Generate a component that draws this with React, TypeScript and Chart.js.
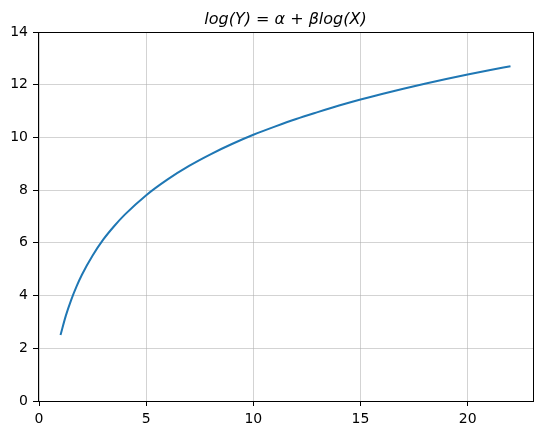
import React, { useEffect, useRef } from "react";
import { Chart, registerables } from "chart.js";

Chart.register(...registerables);

const xValues = [1, 1.25, 1.5, 1.75, 2, 2.5, 3, 3.5, 4, 5, 6, 7, 8, 9, 10, 11, 12, 13, 14, 15, 16, 17, 18, 19, 20, 21, 22];
const yValues = [2.5, 3.24, 3.84, 4.35, 4.79, 5.52, 6.13, 6.63, 7.07, 7.81, 8.41, 8.92, 9.36, 9.75, 10.1, 10.41, 10.7, 10.96, 11.21, 11.44, 11.65, 11.85, 12.04, 12.22, 12.39, 12.55, 12.7];
const titleText = "log(Y) = α + βlog(X)";
const xTicks = [0, 5, 10, 15, 20];
const yTicks = [0, 2, 4, 6, 8, 10, 12, 14];

const frame = {
  id: "frame",
  afterDraw(chart: any) {
    const { ctx, chartArea } = chart;
    ctx.save();
    ctx.strokeStyle = "#000";
    ctx.lineWidth = 1;
    ctx.strokeRect(
      Math.round(chartArea.left) + 0.5,
      Math.round(chartArea.top) + 0.5,
      Math.round(chartArea.right - chartArea.left),
      Math.round(chartArea.bottom - chartArea.top)
    );
    ctx.restore();
  },
};

export default function App() {
  const ref = useRef<HTMLCanvasElement | null>(null);
  useEffect(() => {
    if (!ref.current) return;
    const font = { family: "DejaVu Sans", size: 14 };
    const gridCommon = {
      color: "rgba(176,176,176,0.7)",
      lineWidth: 0.8,
      tickColor: "#000",
      tickLength: 5,
      tickWidth: 1,
    };
    const chart = new Chart(ref.current, {
      type: "line",
      data: {
        datasets: [
          {
            data: xValues.map((x, i) => ({ x, y: yValues[i] })),
            borderColor: "#1f77b4",
            borderWidth: 2,
            pointRadius: 0,
            fill: false,
            cubicInterpolationMode: "monotone",
          },
        ],
      },
      options: {
        responsive: false,
        animation: false,
        layout: { padding: { left: 0, right: 9, top: 0, bottom: 0 } },
        plugins: {
          legend: { display: false },
          tooltip: { enabled: false },
          title: {
            display: true,
            text: titleText,
            fullSize: false,
            color: "#000",
            font: { family: "DejaVu Sans", size: 16, style: "italic", weight: "normal" },
            padding: { top: 10, bottom: 2.8 },
          },
        },
        scales: {
          x: {
            type: "linear",
            min: -0.05,
            max: 23.05,
            afterFit(scale: any) {
              scale.height = 34;
            },
            afterBuildTicks(scale: any) {
              scale.ticks = xTicks.map((v) => ({ value: v }));
            },
            ticks: { stepSize: 5, includeBounds: false, color: "#000", font, padding: 5, maxRotation: 0 },
            grid: gridCommon,
            border: { color: "#000", width: 1 },
          },
          y: {
            type: "linear",
            min: 0,
            max: 14,
            afterFit(scale: any) {
              scale.width = 38;
            },
            afterBuildTicks(scale: any) {
              scale.ticks = yTicks.map((v) => ({ value: v }));
            },
            ticks: { stepSize: 2, color: "#000", font, padding: 5 },
            grid: gridCommon,
            border: { color: "#000", width: 1 },
          },
        },
      },
      plugins: [frame],
    } as any);
    return () => chart.destroy();
  }, []);
  return (
    <div style={{ position: "absolute", left: 0, top: 0, width: 542, height: 435, background: "#fff" }}>
      <canvas ref={ref} width={542} height={435} />
    </div>
  );
}
